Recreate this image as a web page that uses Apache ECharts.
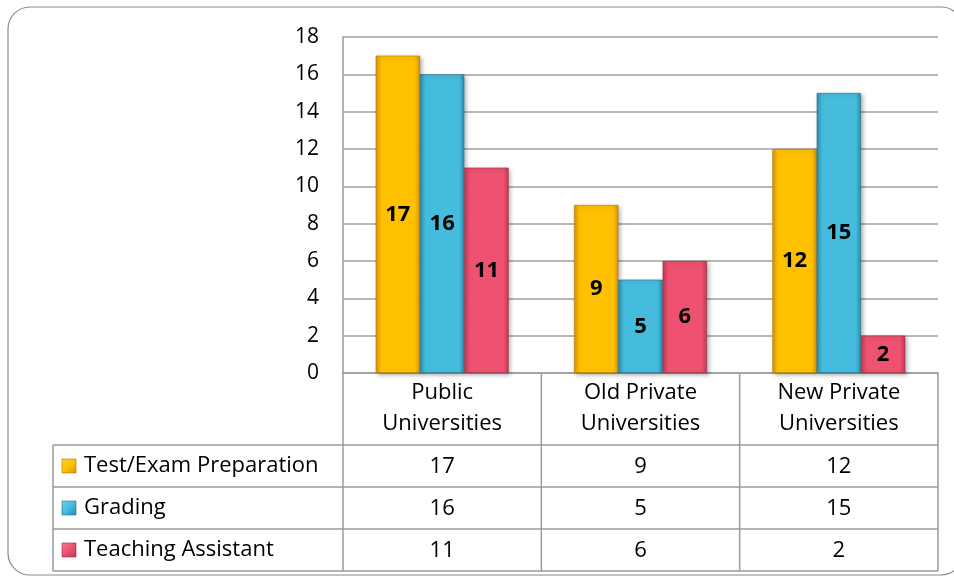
<!DOCTYPE html>
<html>
<head>
<meta charset="utf-8">
<script src="https://cdn.jsdelivr.net/npm/echarts@6/dist/echarts.min.js"></script>
<style>
  html, body { margin: 0; padding: 0; background: #fff; }
  #chart { width: 954px; height: 578px; }
</style>
</head>
<body>
<div id="chart"></div>
<script>
// Categories, series and values
const categories = ['Public Universities', 'Old Private Universities', 'New Private Universities'];
const seriesNames = ['Test/Exam Preparation', 'Grading', 'Teaching Assistant'];
const testExamPrep = [17, 9, 12];
const grading = [16, 5, 15];
const teachingAssistant = [11, 6, 2];
const yTicks = [0, 2, 4, 6, 8, 10, 12, 14, 16, 18];

const FONT = 'Open Sans';
const TEXT_SIZE = 22;
const seriesValues = [testExamPrep, grading, teachingAssistant];

// bevel-like fills: darker edges, lighter middle
const palettes = [
  { edge: '#D99700', mid: '#FFC000', light: '#FFD033', border: '#A87400' },
  { edge: '#2B8EAD', mid: '#45BCDD', light: '#6ED0EA', border: '#1F6F88' },
  { edge: '#C13A55', mid: '#EE5270', light: '#F57A92', border: '#8E2A3E' }
];

function barFill(p) {
  return new echarts.graphic.LinearGradient(0, 0, 1, 0, [
    { offset: 0, color: p.edge },
    { offset: 0.12, color: p.mid },
    { offset: 0.88, color: p.mid },
    { offset: 1, color: p.edge }
  ]);
}

function keyFill(p) {
  return new echarts.graphic.LinearGradient(0, 0, 1, 1, [
    { offset: 0, color: p.light },
    { offset: 0.5, color: p.mid },
    { offset: 1, color: p.edge }
  ]);
}

const chart = echarts.init(document.getElementById('chart'), null, { renderer: 'canvas' });

const series = seriesNames.map((name, i) => ({
  name: name,
  type: 'bar',
  data: seriesValues[i],
  barGap: '0%',
  barCategoryGap: '33%',
  itemStyle: {
    color: barFill(palettes[i]),
    borderColor: palettes[i].border,
    borderWidth: 0.6,
    shadowColor: 'rgba(0,0,0,0.28)',
    shadowBlur: 4,
    shadowOffsetX: 2,
    shadowOffsetY: 2
  },
  label: {
    show: true,
    position: 'inside',
    color: '#000',
    fontFamily: FONT,
    fontWeight: 'bold',
    fontSize: 22
  }
}));

chart.setOption({
  animation: false,
  backgroundColor: '#fff',
  grid: { left: 343, right: 16, top: 37, bottom: 205 },
  xAxis: {
    type: 'category',
    data: categories,
    axisLine: { show: true, lineStyle: { color: '#9a9a9a', width: 1.5 } },
    axisTick: { show: false },
    axisLabel: {
      interval: 0,
      margin: 4,
      color: '#000',
      fontFamily: FONT,
      fontSize: TEXT_SIZE,
      lineHeight: 31,
      formatter: v => {
        const k = v.lastIndexOf(' ');
        return v.slice(0, k) + '\n' + v.slice(k + 1);
      }
    },
    splitLine: { show: false }
  },
  yAxis: {
    type: 'value',
    min: yTicks[0],
    max: yTicks[yTicks.length - 1],
    interval: 2,
    axisLine: { show: true, lineStyle: { color: '#9a9a9a', width: 1.5 } },
    axisTick: { show: false },
    axisLabel: { margin: 24, color: '#000', fontFamily: FONT, fontSize: 21 },
    splitLine: { show: true, lineStyle: { color: '#a0a0a0', width: 1.5 } }
  },
  series: series
});

// Data table under the plot, aligned with the category bands
function drawTable() {
  const c0 = chart.convertToPixel({ xAxisIndex: 0 }, 0);
  const c1 = chart.convertToPixel({ xAxisIndex: 0 }, 1);
  const band = c1 - c0;
  const xLeft = c0 - band / 2;
  const colEdges = categories.map((_, i) => xLeft + band * i).concat([xLeft + band * categories.length]);
  const y0 = chart.convertToPixel({ yAxisIndex: 0 }, 0);
  const headerH = 72;
  const rowH = 42;
  const tableLeft = 53;
  const rowTop = y0 + headerH;
  const tableBottom = rowTop + rowH * seriesNames.length;
  const lineStyle = { stroke: '#9a9a9a', lineWidth: 1.5 };
  const font = TEXT_SIZE + 'px "' + FONT + '"';
  const els = [];

  // outer frame of the slide
  els.push({
    type: 'rect', silent: true, z: -1,
    shape: { x: 8, y: 7, width: 955, height: 568, r: 22 },
    style: { fill: 'none', stroke: '#8a8a8a', lineWidth: 1.2 }
  });

  // horizontal rules
  for (let r = 0; r <= seriesNames.length; r++) {
    const y = rowTop + rowH * r;
    els.push({ type: 'line', silent: true, shape: { x1: tableLeft, y1: y, x2: colEdges[colEdges.length - 1], y2: y }, style: lineStyle });
  }
  // vertical rules
  colEdges.forEach(x => {
    els.push({ type: 'line', silent: true, shape: { x1: x, y1: y0, x2: x, y2: tableBottom }, style: lineStyle });
  });
  els.push({ type: 'line', silent: true, shape: { x1: tableLeft, y1: rowTop, x2: tableLeft, y2: tableBottom }, style: lineStyle });

  // rows: legend key, series name, values
  seriesNames.forEach((name, r) => {
    const cy = rowTop + rowH * r + rowH / 2;
    els.push({
      type: 'rect', silent: true,
      shape: { x: 62, y: cy - 7, width: 14, height: 14 },
      style: { fill: keyFill(palettes[r]), stroke: palettes[r].border, lineWidth: 0.6 }
    });
    els.push({
      type: 'text', silent: true,
      style: { text: name, x: 84, y: cy, align: 'left', verticalAlign: 'middle', fill: '#000', font: font }
    });
    seriesValues[r].forEach((v, c) => {
      els.push({
        type: 'text', silent: true,
        style: { text: String(v), x: (colEdges[c] + colEdges[c + 1]) / 2, y: cy + 1, align: 'center', verticalAlign: 'middle', fill: '#000', font: font }
      });
    });
  });

  chart.setOption({ graphic: { elements: els } });
}

drawTable();
</script>
</body>
</html>
